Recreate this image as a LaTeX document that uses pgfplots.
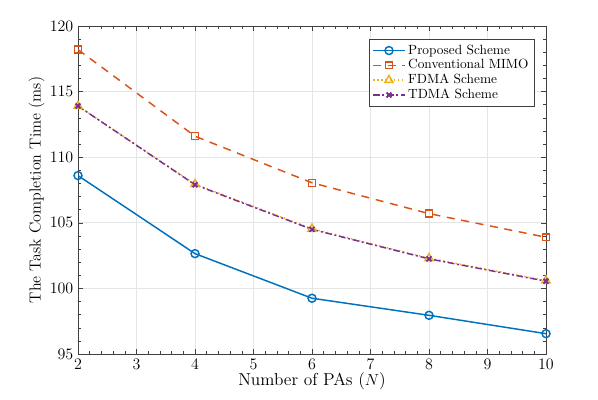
\documentclass[border=0pt]{standalone}
\usepackage{pgfplots}
\pgfplotsset{compat=1.18}
\definecolor{mblue}{rgb}{0,0.447,0.741}
\definecolor{morange}{rgb}{0.85,0.325,0.098}
\definecolor{myellow}{rgb}{0.929,0.694,0.125}
\definecolor{mpurple}{rgb}{0.494,0.184,0.556}
\begin{document}
\begin{tikzpicture}
\begin{axis}[
  scale only axis,
  width=351pt, height=246pt,
  xmin=2, xmax=10, ymin=95, ymax=120,
  xtick={2,3,...,10}, ytick={95,100,...,120},
  minor x tick num=4, minor y tick num=4,
  tick align=inside,
  major tick length=4pt, minor tick length=2pt,
  grid=major,
  major grid style={gray!20, line width=0.5pt},
  axis line style={black!75, line width=0.6pt},
  every tick/.style={black!75},
  tick label style={font=\fontsize{12}{14}\selectfont},
  xlabel={Number of PAs ($N$)},
  ylabel={The Task Completion Time (ms)},
  xlabel style={yshift=4pt, font=\fontsize{13}{15}\selectfont},
  ylabel style={yshift=-3pt, font=\fontsize{12}{14}\selectfont},
  legend style={at={(0.975,0.96)}, anchor=north east, font=\fontsize{10}{12}\selectfont,
    draw=black!75, line width=0.6pt, row sep=-1.5pt, inner sep=2pt},
  legend cell align=left,
  legend image code/.code={
    \draw[mark repeat=2,mark phase=2] plot coordinates {(0cm,0cm) (0.42cm,0cm) (0.84cm,0cm)};
  },
  legend image post style={line width=0.9pt},
]
\coordinate (ll) at (rel axis cs:0,0);
\coordinate (ur) at (rel axis cs:1,1);
\addplot[mblue, line width=1.1pt, mark=o, mark size=3pt, mark options={solid, line width=1.1pt}]
coordinates {(2,108.6) (4,102.65) (6,99.25) (8,97.95) (10,96.55)};
\addlegendentry{Proposed Scheme}
\addplot[morange, line width=1.1pt, dash pattern=on 6pt off 5pt, mark=square, mark size=2.6pt, mark options={solid, line width=1.1pt}]
coordinates {(2,118.2) (4,111.6) (6,108.05) (8,105.7) (10,103.9)};
\addlegendentry{Conventional MIMO}
\addplot[myellow, line width=1.1pt, dotted, mark=triangle, mark size=3.5pt, mark options={solid, line width=1.1pt}]
coordinates {(2,113.9) (4,107.95) (6,104.55) (8,102.3) (10,100.6)};
\addlegendentry{FDMA Scheme}
\addplot[mpurple, line width=1.1pt, dash pattern=on 5pt off 2pt on 1.5pt off 2pt, mark=x, mark size=2.6pt, mark options={solid, line width=1.4pt}]
coordinates {(2,113.9) (4,107.9) (6,104.5) (8,102.25) (10,100.55)};
\addlegendentry{TDMA Scheme}
\end{axis}
\pgfresetboundingbox
\path ([shift={(-58.5pt,-33.75pt)}]ll) rectangle ([shift={(39pt,19.5pt)}]ur);
\end{tikzpicture}
\end{document}
